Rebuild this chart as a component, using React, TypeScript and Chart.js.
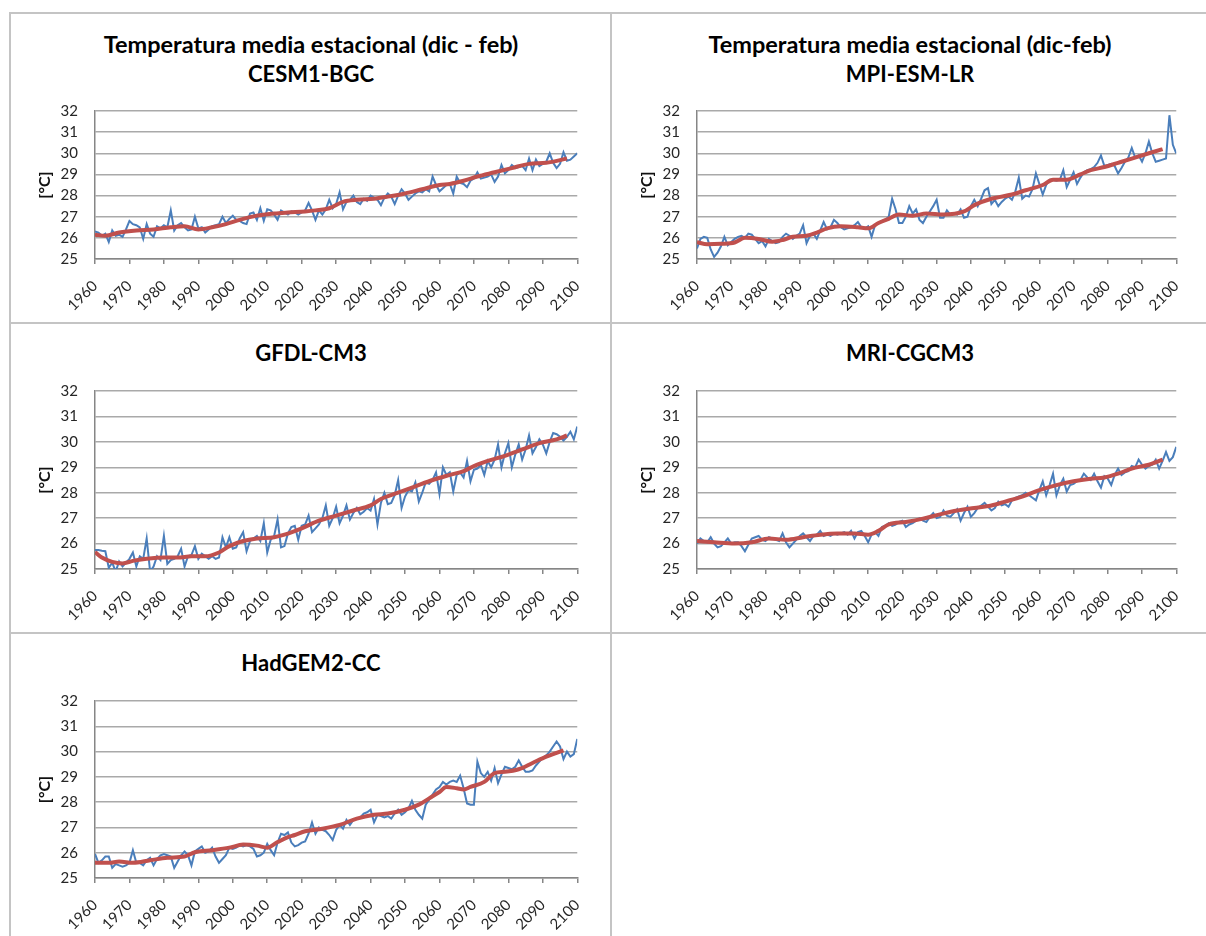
import React, { useEffect, useRef } from "react";
import { Chart, registerables } from "chart.js";

Chart.register(...registerables);

// ---------- DATA ----------
const years: number[] = Array.from({ length: 141 }, (_, i) => 1960 + i);

const cesmAnnual: number[] = [
  26.3, 26.25, 26.1, 26.2, 25.8, 26.35, 26.1, 26.15, 26.05, 26.4,
  26.8, 26.65, 26.6, 26.5, 25.95, 26.65, 26.2, 26.05, 26.55, 26.45,
  26.6, 26.5, 27.3, 26.35, 26.6, 26.7, 26.5, 26.35, 26.4, 27.0,
  26.45, 26.5, 26.25, 26.4, 26.55, 26.6, 26.65, 27.0, 26.7, 26.9,
  27.05, 26.85, 26.8, 26.7, 26.65, 27.15, 27.2, 26.85, 27.4, 26.8,
  27.35, 27.3, 27.1, 26.85, 27.3, 27.2, 27.1, 27.25, 27.2, 27.1,
  27.2, 27.3, 27.65, 27.3, 26.85, 27.3, 27.1, 27.35, 27.8, 27.4,
  27.6, 28.15, 27.35, 27.7, 27.8, 28.0, 27.7, 27.6, 27.85, 27.75,
  28.0, 27.9, 27.8, 27.55, 27.9, 28.1, 27.95, 27.6, 28.0, 28.3,
  28.1, 27.8, 27.95, 28.1, 28.2, 28.15, 28.3, 28.2, 28.9, 28.5,
  28.2, 28.35, 28.5, 28.55, 28.1, 28.9, 28.6, 28.55, 28.4, 28.7,
  28.8, 29.1, 28.8, 28.85, 28.9, 29.0, 28.65, 28.9, 29.45, 29.05,
  29.2, 29.45, 29.3, 29.35, 29.4, 29.2, 29.75, 29.2, 29.7, 29.4,
  29.5, 29.6, 30.0, 29.55, 29.3, 29.5, 30.05, 29.65, 29.7, 29.85,
  30.0,
];
const cesmSmoothYears: number[] = [1960, 1963, 1967, 1972, 1977, 1982, 1986, 1990, 1994, 1998, 2002, 2007, 2012, 2016, 2021, 2024, 2028, 2032, 2036, 2041, 2045, 2050, 2055, 2060, 2063, 2067, 2071, 2076, 2081, 2086, 2091, 2097];
const cesmSmooth: number[] = [26.15, 26.1, 26.25, 26.35, 26.4, 26.5, 26.55, 26.4, 26.5, 26.65, 26.85, 27.05, 27.15, 27.2, 27.25, 27.3, 27.4, 27.7, 27.8, 27.85, 27.95, 28.1, 28.3, 28.5, 28.55, 28.7, 28.9, 29.1, 29.3, 29.5, 29.55, 29.75];

const mpiAnnual: number[] = [
  25.5, 25.95, 26.05, 26.0, 25.45, 25.1, 25.3, 25.6, 26.05, 25.65,
  25.8, 25.95, 26.05, 26.1, 26.0, 26.2, 26.15, 25.95, 25.75, 25.85,
  25.6, 25.95, 25.85, 25.75, 25.8, 26.05, 26.2, 26.1, 25.95, 26.1,
  26.2, 26.6, 25.75, 26.1, 26.2, 25.95, 26.35, 26.75, 26.4, 26.5,
  26.85, 26.7, 26.5, 26.4, 26.45, 26.5, 26.6, 26.75, 26.5, 26.45,
  26.55, 26.05, 26.6, 26.7, 26.8, 26.85, 27.0, 27.85, 27.35, 26.7,
  26.7, 27.0, 27.5, 27.15, 27.35, 26.85, 26.7, 27.0, 27.25, 27.5,
  27.8, 26.95, 26.95, 27.3, 27.1, 27.15, 27.1, 27.35, 26.95, 27.0,
  27.5, 27.8, 27.5, 27.85, 28.25, 28.35, 27.6, 27.8, 27.5, 27.7,
  27.85, 27.95, 27.8, 28.2, 28.85, 27.85, 28.0, 27.95, 28.3, 29.05,
  28.55, 28.05, 28.5, 28.75, 28.75, 28.7, 28.75, 29.2, 28.4, 28.75,
  29.1, 28.55, 28.85, 29.1, 29.2, 29.25, 29.35, 29.55, 29.9, 29.4,
  29.45, 29.5, 29.4, 29.05, 29.3, 29.6, 29.8, 30.25, 29.8, 29.9,
  29.6, 30.0, 30.55, 30.0, 29.6, 29.65, 29.7, 29.75, 31.8, 30.4,
  30.0,
];
const mpiSmoothYears: number[] = [1960, 1963, 1967, 1971, 1974, 1978, 1982, 1985, 1988, 1992, 1995, 1998, 2002, 2007, 2010, 2013, 2016, 2019, 2023, 2027, 2032, 2038, 2041, 2046, 2052, 2056, 2061, 2064, 2068, 2072, 2075, 2079, 2083, 2087, 2092, 2096];
const mpiSmooth: number[] = [25.8, 25.7, 25.72, 25.78, 26.0, 25.95, 25.82, 25.9, 26.05, 26.1, 26.25, 26.45, 26.55, 26.5, 26.45, 26.7, 26.9, 27.1, 27.05, 27.15, 27.1, 27.25, 27.55, 27.85, 28.05, 28.25, 28.5, 28.75, 28.75, 29.0, 29.2, 29.35, 29.55, 29.75, 30.0, 30.2];

const gfdlAnnual: number[] = [
  25.75, 25.75, 25.72, 25.7, 25.05, 25.25, 24.9, 25.3, 25.1, 25.25,
  25.4, 25.65, 25.1, 25.5, 25.4, 26.2, 24.9, 25.1, 25.5, 25.35,
  26.3, 25.2, 25.35, 25.4, 25.5, 25.8, 25.1, 25.5, 25.55, 25.9,
  25.4, 25.6, 25.5, 25.4, 25.5, 25.4, 25.45, 26.25, 25.85, 26.25,
  25.8, 25.85, 26.2, 26.45, 25.7, 26.1, 26.2, 26.3, 26.1, 26.8,
  25.65, 26.15, 26.3, 26.95, 25.85, 25.9, 26.4, 26.65, 26.7, 26.15,
  26.7, 26.75, 27.1, 26.45, 26.6, 26.75, 27.0, 27.5, 26.7, 27.0,
  27.45, 26.8, 27.1, 27.5, 26.95, 27.2, 27.4, 27.15, 27.25, 27.4,
  27.3, 27.75, 26.75, 27.6, 28.0, 27.55, 27.6, 27.9, 28.5, 27.4,
  27.85, 28.1, 28.05, 28.4, 27.65, 28.0, 28.4, 28.35, 28.5, 28.8,
  27.95, 29.0, 28.7, 28.8, 28.05, 28.7, 28.8, 28.6, 29.25, 28.45,
  28.9, 28.95, 29.1, 28.7, 29.25, 29.0, 29.3, 29.9, 29.0, 29.55,
  29.95, 29.0, 29.5, 29.9, 29.3, 29.7, 30.25, 29.55, 29.8, 30.1,
  29.9, 29.55, 30.0, 30.35, 30.3, 30.2, 30.05, 30.2, 30.4, 30.1,
  30.6,
];
const gfdlSmoothYears: number[] = [1960, 1962, 1965, 1968, 1971, 1975, 1980, 1984, 1988, 1992, 1996, 1999, 2003, 2007, 2012, 2015, 2020, 2025, 2030, 2035, 2040, 2043, 2048, 2053, 2058, 2063, 2067, 2070, 2074, 2079, 2084, 2089, 2094, 2097];
const gfdlSmooth: number[] = [25.67, 25.45, 25.28, 25.22, 25.32, 25.4, 25.45, 25.45, 25.5, 25.5, 25.65, 25.9, 26.1, 26.2, 26.25, 26.35, 26.6, 26.9, 27.1, 27.3, 27.5, 27.75, 28.0, 28.25, 28.5, 28.7, 28.85, 29.05, 29.25, 29.45, 29.7, 29.95, 30.1, 30.25];

const mriAnnual: number[] = [
  26.0, 26.2, 26.1, 26.05, 26.25, 26.0, 25.85, 25.9, 26.05, 26.2,
  26.0, 26.05, 26.05, 25.9, 25.7, 25.95, 26.2, 26.25, 26.3, 26.15,
  26.1, 26.25, 26.2, 26.15, 26.1, 26.4, 26.05, 25.85, 26.0, 26.15,
  26.3, 26.4, 26.25, 26.1, 26.3, 26.35, 26.5, 26.3, 26.35, 26.3,
  26.4, 26.35, 26.4, 26.45, 26.35, 26.5, 26.2, 26.45, 26.5, 26.3,
  26.05, 26.35, 26.45, 26.3, 26.65, 26.7, 26.8, 26.7, 26.75, 26.85,
  26.9, 26.65, 26.75, 26.8, 26.9, 27.0, 26.9, 26.85, 27.05, 27.2,
  27.0, 27.05, 27.3, 27.1, 27.05, 27.2, 27.35, 26.9, 27.2, 27.45,
  27.05, 27.2, 27.4, 27.5, 27.6, 27.45, 27.3, 27.4, 27.65, 27.5,
  27.55, 27.45, 27.7, 27.8, 27.85, 27.9, 28.0, 27.9, 27.8, 27.7,
  28.1, 28.45, 27.9, 28.3, 28.75, 27.9, 28.3, 28.55, 28.05, 28.3,
  28.35, 28.45, 28.5, 28.75, 28.6, 28.5, 28.75, 28.45, 28.2, 28.65,
  28.55, 28.3, 28.7, 28.95, 28.7, 28.8, 28.85, 29.05, 29.0, 29.3,
  29.1, 28.95, 29.05, 29.1, 29.3, 28.95, 29.25, 29.6, 29.25, 29.4,
  29.8,
];
const mriSmoothYears: number[] = [1960, 1965, 1971, 1976, 1981, 1986, 1991, 1996, 2001, 2006, 2010, 2013, 2016, 2021, 2026, 2031, 2036, 2041, 2046, 2050, 2055, 2060, 2065, 2070, 2075, 2079, 2083, 2087, 2092, 2096];
const mriSmooth: number[] = [26.1, 26.05, 26.0, 26.05, 26.2, 26.15, 26.25, 26.35, 26.4, 26.4, 26.35, 26.5, 26.75, 26.85, 26.98, 27.15, 27.3, 27.4, 27.5, 27.65, 27.85, 28.1, 28.3, 28.45, 28.55, 28.6, 28.75, 28.95, 29.1, 29.3];

const hadAnnual: number[] = [
  25.95, 25.6, 25.7, 25.85, 25.85, 25.4, 25.55, 25.5, 25.45, 25.5,
  25.6, 26.1, 25.6, 25.6, 25.5, 25.7, 25.8, 25.5, 25.75, 25.9,
  25.95, 25.9, 25.85, 25.4, 25.65, 25.9, 26.05, 25.9, 25.5, 26.05,
  26.15, 26.25, 26.0, 26.05, 26.2, 25.85, 25.6, 25.75, 25.9, 26.2,
  26.15, 26.2, 26.3, 26.25, 26.3, 26.25, 26.15, 25.85, 25.9, 26.0,
  26.35, 26.1, 25.9, 26.4, 26.75, 26.7, 26.8, 26.4, 26.25, 26.3,
  26.4, 26.45, 26.75, 27.2, 26.75, 27.0, 26.9, 26.85, 26.7, 26.5,
  26.9, 27.1, 26.95, 27.3, 27.1, 27.3, 27.35, 27.4, 27.55, 27.6,
  27.7, 27.2, 27.5, 27.45, 27.4, 27.45, 27.35, 27.55, 27.7, 27.5,
  27.6, 27.75, 28.05, 27.7, 27.5, 27.35, 27.9, 28.1, 28.3, 28.5,
  28.6, 28.8, 28.7, 28.8, 28.85, 28.8, 29.05, 28.55, 27.95, 27.9,
  27.9, 29.6, 29.15, 29.0, 29.2, 28.85, 29.35, 28.75, 29.1, 29.4,
  29.35, 29.3, 29.4, 29.65, 29.4, 29.2, 29.2, 29.25, 29.45, 29.6,
  29.75, 29.85, 30.0, 30.2, 30.4, 30.2, 29.7, 30.0, 29.8, 29.9,
  30.5,
];
const hadSmoothYears: number[] = [1960, 1964, 1967, 1971, 1976, 1981, 1986, 1989, 1994, 1999, 2003, 2007, 2010, 2013, 2016, 2018, 2021, 2026, 2031, 2036, 2041, 2045, 2050, 2054, 2057, 2060, 2062, 2065, 2067, 2069, 2073, 2076, 2079, 2083, 2087, 2091, 2094, 2096];
const hadSmooth: number[] = [25.6, 25.6, 25.65, 25.6, 25.7, 25.8, 25.85, 26.02, 26.1, 26.2, 26.32, 26.28, 26.2, 26.42, 26.62, 26.7, 26.85, 26.95, 27.1, 27.35, 27.5, 27.55, 27.7, 27.9, 28.15, 28.4, 28.6, 28.55, 28.5, 28.6, 28.8, 29.15, 29.2, 29.3, 29.55, 29.8, 29.95, 30.05];

const yMin = 25;
const yMax = 32;
const xMin = 1960;
const xMax = 2100;
const yAxisTitle = "[°C]";

// ---------- STYLE / LAYOUT ----------
const FONT = 'Lato, "Open Sans", "DejaVu Sans", sans-serif';
const BLUE = "#4a7ebb";
const RED = "#c0504d";
const GRID = "#a9a9a9";
const AXIS = "#868686";
const TEXT = "#262626";
const FRAME = "#c4c4c4";

const Y_BOX = 70;
const PAD_TOP = 14;
const PAD_RIGHT = 24;
const X_BOX = 62;

type PanelProps = {
  left: number;
  top: number;
  right: number;
  bottom: number;
  annual: number[];
  smoothYears: number[];
  smooth: number[];
};

function Panel({ left, top, right, bottom, annual, smoothYears, smooth }: PanelProps) {
  const ref = useRef<HTMLCanvasElement | null>(null);
  const w = right - left + Y_BOX + PAD_RIGHT;
  const h = bottom - top + PAD_TOP + X_BOX;

  useEffect(() => {
    if (!ref.current) return;
    const chart = new Chart(ref.current, {
      type: "line",
      data: {
        datasets: [
          {
            data: smoothYears.map((yr, i) => ({ x: yr, y: smooth[i] })),
            borderColor: RED,
            borderWidth: 4,
            pointRadius: 0,
            cubicInterpolationMode: "monotone",
            fill: false,
            order: 0,
          },
          {
            data: years.map((yr, i) => ({ x: yr, y: annual[i] })),
            borderColor: BLUE,
            borderWidth: 2,
            pointRadius: 0,
            tension: 0,
            fill: false,
            order: 1,
          },
        ],
      },
      options: {
        responsive: false,
        animation: false,
        devicePixelRatio: 1,
        layout: { padding: { left: 0, top: PAD_TOP, right: PAD_RIGHT, bottom: 0 } },
        plugins: { legend: { display: false }, tooltip: { enabled: false }, title: { display: false } },
        scales: {
          x: {
            type: "linear",
            min: xMin,
            max: xMax,
            afterFit: (s: any) => {
              s.height = X_BOX;
            },
            ticks: {
              stepSize: 10,
              autoSkip: false,
              maxRotation: 45,
              minRotation: 45,
              padding: 13,
              color: TEXT,
              font: { family: FONT, size: 15 },
              callback: (v: any) => String(v),
            },
            grid: { drawOnChartArea: false, drawTicks: true, tickLength: 5, color: AXIS, lineWidth: 1.5 },
            border: { display: true, color: AXIS, width: 1.5 },
          },
          y: {
            min: yMin,
            max: yMax,
            afterFit: (s: any) => {
              s.width = Y_BOX;
            },
            ticks: {
              stepSize: 1,
              autoSkip: false,
              padding: 3,
              color: TEXT,
              font: { family: FONT, size: 15 },
            },
            grid: { color: GRID, lineWidth: 1.5, drawTicks: true, tickLength: 14, tickColor: "rgba(0,0,0,0)" },
            border: { display: true, color: AXIS, width: 1.5 },
            title: {
              display: true,
              text: yAxisTitle,
              color: "#111",
              font: { family: FONT, size: 16, weight: "bold" },
              padding: { top: 10, bottom: 0 },
            },
          },
        },
      },
    } as any);
    return () => chart.destroy();
  }, [annual, smoothYears, smooth]);

  return (
    <canvas
      ref={ref}
      width={w}
      height={h}
      style={{ position: "absolute", left: left - Y_BOX, top: top - PAD_TOP, width: w, height: h }}
    />
  );
}

function Title({ cx, cy, text, size }: { cx: number; cy: number; text: string; size: number }) {
  return (
    <div
      style={{
        position: "absolute",
        left: cx - 300,
        top: cy - 15,
        width: 600,
        height: 30,
        lineHeight: "30px",
        textAlign: "center",
        fontFamily: FONT,
        fontWeight: 700,
        fontSize: size,
        color: "#000",
        whiteSpace: "nowrap",
      }}
    >
      {text}
    </div>
  );
}

function Line({ x, y, w, h }: { x: number; y: number; w: number; h: number }) {
  return <div style={{ position: "absolute", left: x, top: y, width: w, height: h, background: FRAME }} />;
}

export default function App() {
  return (
    <div style={{ position: "absolute", left: 0, top: 0, width: 1206, height: 936, background: "#fff", overflow: "hidden" }}>
      <Line x={9} y={12} w={1197} h={2} />
      <Line x={9} y={12} w={2} h={924} />
      <Line x={610} y={12} w={2} h={924} />
      <Line x={9} y={322} w={1197} h={2} />
      <Line x={9} y={632} w={1197} h={2} />

      <Title cx={311} cy={44} size={23.5} text="Temperatura media estacional (dic - feb)" />
      <Title cx={311} cy={74} size={22} text="CESM1-BGC" />
      <Title cx={910} cy={44} size={23.5} text="Temperatura media estacional (dic-feb)" />
      <Title cx={910} cy={74} size={22} text="MPI-ESM-LR" />
      <Title cx={311} cy={353} size={22} text="GFDL-CM3" />
      <Title cx={910} cy={353} size={22} text="MRI-CGCM3" />
      <Title cx={311} cy={663} size={22} text="HadGEM2-CC" />

      <Panel left={95} top={111} right={579} bottom={259} annual={cesmAnnual} smoothYears={cesmSmoothYears} smooth={cesmSmooth} />
      <Panel left={697} top={111} right={1178} bottom={259} annual={mpiAnnual} smoothYears={mpiSmoothYears} smooth={mpiSmooth} />
      <Panel left={95} top={391} right={579} bottom={569} annual={gfdlAnnual} smoothYears={gfdlSmoothYears} smooth={gfdlSmooth} />
      <Panel left={697} top={391} right={1178} bottom={569} annual={mriAnnual} smoothYears={mriSmoothYears} smooth={mriSmooth} />
      <Panel left={95} top={701} right={579} bottom={878} annual={hadAnnual} smoothYears={hadSmoothYears} smooth={hadSmooth} />
    </div>
  );
}
